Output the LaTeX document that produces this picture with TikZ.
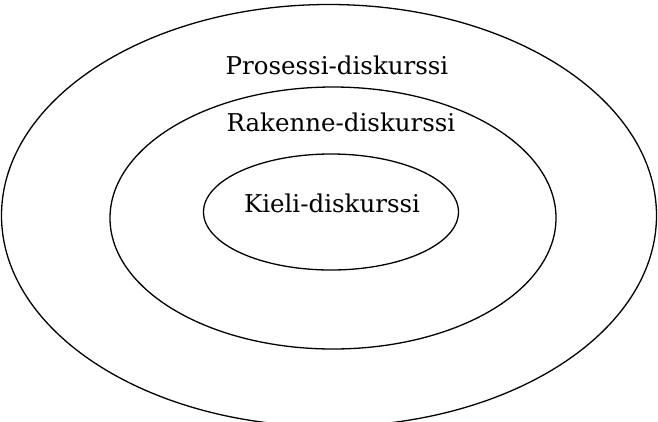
\documentclass[tikz,border=0pt]{standalone}
\usepackage{fontspec}
\setmainfont{DejaVu Serif}
\tikzset{ring/.style={draw=black,line width=1.3pt},
lbl/.style={font=\fontsize{24.5}{27}\selectfont,inner sep=0pt,anchor=base}}
\begin{document}
\begin{tikzpicture}[x=1pt,y=-1pt]
\useasboundingbox (0,0) rectangle (658,421);
\clip (0,0) rectangle (658,421);
\draw[ring] (329,215.5) ellipse [x radius=327.5,y radius=211];
\draw[ring] (333,218) ellipse [x radius=223,y radius=131];
\draw[ring] (331,212) ellipse [x radius=127.5,y radius=58];
\node[lbl] (p) at (337,74) {Prosessi-diskurssi};
\node[lbl] (r) at (341,131) {Rakenne-diskurssi};
\node[lbl] (k) at (332,212) {Kieli-diskurssi};
\end{tikzpicture}
\end{document}
